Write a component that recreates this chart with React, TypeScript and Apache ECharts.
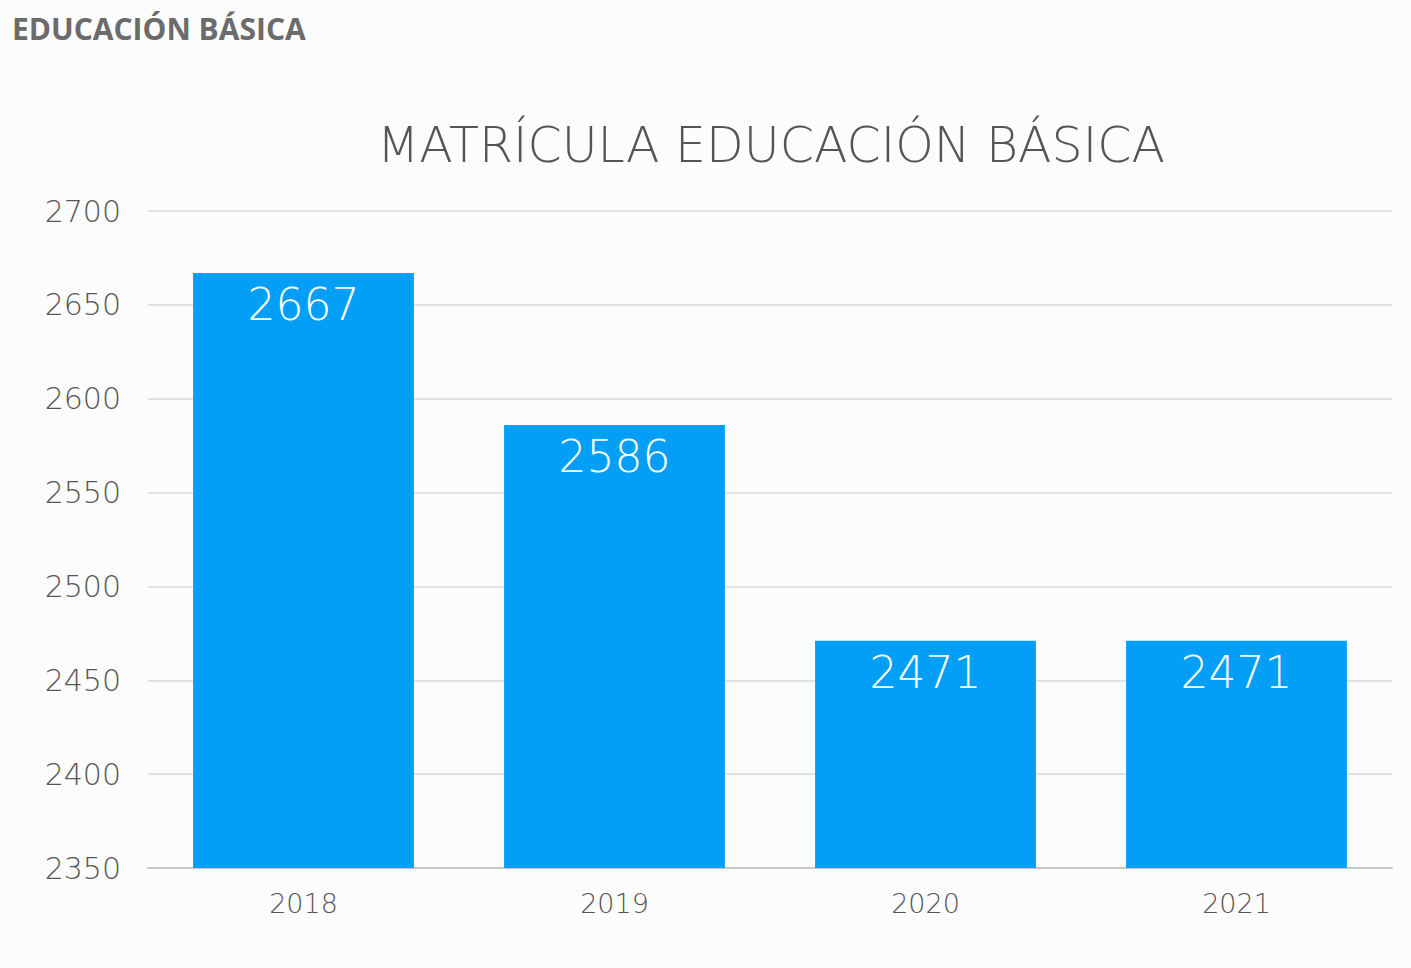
import React, { useEffect, useRef } from "react";
import * as echarts from "echarts";

const categories = ["2018", "2019", "2020", "2021"];
const values = [2667, 2586, 2471, 2471];
const yMin = 2350;
const yMax = 2700;
const yStep = 50;

const thin = "'DejaVu Sans', 'Open Sans', sans-serif";

export default function App() {
  const ref = useRef<HTMLDivElement>(null);
  useEffect(() => {
    document.body.style.margin = "0";
    const chart = echarts.init(ref.current!, null, { renderer: "svg" });
    chart.setOption({
      animation: false,
      backgroundColor: "#fcfcfc",
      textStyle: { fontFamily: thin },
      title: [
        {
          text: "EDUCACIÓN BÁSICA",
          left: 7,
          top: 8,
          textStyle: { fontSize: 30, fontWeight: "bold", color: "#6b6b6b", fontFamily: "'Open Sans', sans-serif" },
        },
        {
          text: "MATRÍCULA EDUCACIÓN BÁSICA",
          left: 766,
          textAlign: "center",
          top: 116,
          textStyle: { fontSize: 49, fontWeight: 200, color: "#555555", fontFamily: thin },
        },
      ],
      grid: { left: 148, right: 19, top: 211, bottom: 100, containLabel: false },
      xAxis: {
        type: "category",
        data: categories,
        axisTick: { show: false },
        axisLine: { lineStyle: { color: "#c8c8c8", width: 2 } },
        axisLabel: { fontSize: 27, fontWeight: 200, color: "#555555", margin: 22, fontFamily: thin },
      },
      yAxis: {
        type: "value",
        min: yMin,
        max: yMax,
        interval: yStep,
        axisLabel: {
          fontSize: 30,
          fontWeight: 200,
          color: "#555555",
          margin: 27,
          fontFamily: thin,
          formatter: (v: number) => String(v),
        },
        splitLine: { lineStyle: { color: "#e2e2e2", width: 2 } },
        axisLine: { show: false },
        axisTick: { show: false },
      },
      series: [
        {
          type: "bar",
          data: values,
          barCategoryGap: "29%",
          itemStyle: { color: "#039ef6" },
          label: {
            show: true,
            position: "insideTop",
            distance: 10,
            color: "#ffffff",
            fontSize: 44,
            fontWeight: 200,
            fontFamily: thin,
          },
        },
      ],
    });
    return () => chart.dispose();
  }, []);
  return <div ref={ref} style={{ width: 1411, height: 968 }} />;
}
